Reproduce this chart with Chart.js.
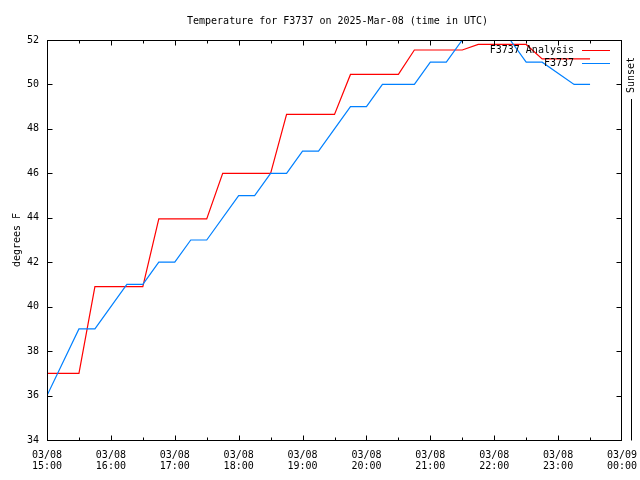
<!DOCTYPE html>
<html>
<head>
<meta charset="utf-8">
<title>Temperature for F3737</title>
<script src="https://cdn.jsdelivr.net/npm/chart.js@4/dist/chart.umd.min.js"></script>
<style>
  html, body { margin: 0; padding: 0; background: #fff; }
</style>
</head>
<body>
<canvas id="tempChart" width="640" height="480"></canvas>
<script>
/*******  Data  ******/
var titleText = 'Temperature for F3737 on 2025-Mar-08 (time in UTC)';
var yLabel = 'degrees F';

// F3737 Analysis (red)
var analysisTimes = ['15:00', '15:30', '15:45', '16:30', '16:45', '17:30', '17:45', '18:30', '18:45',
                     '19:30', '19:45', '20:30', '20:45', '21:30', '21:45', '22:30', '22:45', '23:30'];
var analysisTemps = [37.0, 37.0, 40.9, 40.9, 43.95, 43.95, 46.0, 46.0, 48.65,
                     48.65, 50.45, 50.45, 51.55, 51.55, 51.8, 51.8, 51.15, 51.15];

// F3737 observations (blue)
var obsTimes = ['15:00', '15:30', '15:45', '16:15', '16:30', '16:45', '17:00', '17:15', '17:30', '18:00',
                '18:15', '18:30', '18:45', '19:00', '19:15', '19:45', '20:00', '20:15', '20:45', '21:00',
                '21:15', '21:30', '21:45', '22:00', '22:15', '22:30', '22:45', '23:15', '23:30'];
var obsTemps = [36, 39, 39, 41, 41, 42, 42, 43, 43, 45,
                45, 46, 46, 47, 47, 49, 49, 50, 50, 51,
                51, 52, 53, 53, 52, 51, 51, 50, 50];

// x axis: hours 15:00 on 03/08 to 00:00 on 03/09
var hourTicks = ['15:00', '16:00', '17:00', '18:00', '19:00', '20:00', '21:00', '22:00', '23:00', '00:00'];
var sunsetTime = '00:08';
var yTicks = [34, 36, 38, 40, 42, 44, 46, 48, 50, 52];

var font = 'DejaVu Sans Mono';

// "15:30" -> 15.5 ; times after midnight roll to next day (24+)
function toHours(t) {
  var p = t.split(':');
  var h = Number(p[0]) + Number(p[1]) / 60;
  if (h < 12) h += 24;
  return h;
}
function toPoints(times, temps) {
  return times.map(function (t, i) { return { x: toHours(t), y: temps[i] }; });
}

var xMin = toHours(hourTicks[0]);
var xMax = toHours(hourTicks[hourTicks.length - 1]);

/*****  gnuplot-ish frame, inward ticks, title, key and sunset marker  ********/
var gnuFrame = {
  id: 'gnuFrame',
  afterDraw: function (chart) {
    var c = chart.ctx, a = chart.chartArea;
    var xs = chart.scales.x, ys = chart.scales.y;
    var L = a.left + 0.5, R = a.right - 0.5, T = a.top + 0.5, B = a.bottom + 0.5;
    c.save();
    c.strokeStyle = '#000';
    c.lineWidth = 1;
    c.beginPath();
    for (var h = xMin; h <= xMax + 0.001; h += 0.5) {
      var px = Math.min(Math.round(xs.getPixelForValue(h)) + 0.5, R);
      var len = (h % 1 === 0) ? 5 : 3;
      c.moveTo(px, B); c.lineTo(px, B - len);
      c.moveTo(px, T); c.lineTo(px, T + len);
    }
    yTicks.forEach(function (v) {
      var py = Math.round(ys.getPixelForValue(v)) + 0.5;
      c.moveTo(L, py); c.lineTo(L + 5, py);
      c.moveTo(R, py); c.lineTo(R - 5, py);
    });
    c.stroke();
    c.strokeRect(L, T, R - L, B - T);

    // title
    c.fillStyle = '#000';
    c.font = '10px "' + font + '"';
    c.textAlign = 'center';
    c.textBaseline = 'middle';
    c.fillText(titleText, (a.left + a.right) / 2 + 3, 21);

    // key, top right inside the plot
    c.textAlign = 'right';
    chart.data.datasets.forEach(function (ds, i) {
      var ky = a.top + 10.5 + i * 13;
      c.fillStyle = '#000';
      c.fillText(ds.label, a.right - 48, ky);
      c.strokeStyle = ds.borderColor;
      c.beginPath();
      c.moveTo(a.right - 40, ky);
      c.lineTo(a.right - 12, ky);
      c.stroke();
    });

    // sunset marker just past the right edge
    var sx = Math.round(xs.getPixelForValue(toHours(sunsetTime))) + 0.5;
    c.strokeStyle = '#000';
    c.beginPath();
    c.moveTo(sx, a.top + 59);
    c.lineTo(sx, B);
    c.stroke();
    c.translate(sx, a.top + 35);
    c.rotate(-Math.PI / 2);
    c.textAlign = 'center';
    c.fillStyle = '#000';
    c.fillText('Sunset', 0, 0);
    c.restore();
  }
};

var ctx = document.getElementById('tempChart');
var tempChart = new Chart(ctx, {
  type: 'line',
  data: {
    datasets: [
      {
        label: 'F3737 Analysis',
        data: toPoints(analysisTimes, analysisTemps),
        borderColor: '#ff0000',
        borderWidth: 1.2,
        pointRadius: 0,
        tension: 0,
        clip: 0,
        order: 2
      },
      {
        label: 'F3737',
        data: toPoints(obsTimes, obsTemps),
        borderColor: '#0080ff',
        borderWidth: 1.2,
        pointRadius: 0,
        tension: 0,
        clip: 0,
        order: 1
      }
    ]
  },
  options: {
    responsive: false,
    animation: false,
    events: [],
    layout: { padding: { top: 40, right: 18, left: 0, bottom: 0 } },
    plugins: {
      legend: { display: false },
      title: { display: false },
      tooltip: { enabled: false }
    },
    scales: {
      x: {
        type: 'linear',
        min: xMin,
        max: xMax,
        grid: { display: false, drawTicks: false },
        border: { display: false },
        afterBuildTicks: function (s) {
          s.ticks = hourTicks.map(function (t) { return { value: toHours(t) }; });
        },
        afterFit: function (s) {
          s.height = 40;
          s.paddingLeft = 0;
          s.paddingRight = 0;
        },
        ticks: {
          autoSkip: false,
          maxRotation: 0,
          padding: 10,
          color: '#000',
          font: { family: font, size: 10, lineHeight: 1.1 },
          callback: function (v) {
            var day = v >= 24 ? '03/09' : '03/08';
            var hh = Math.round(v) % 24;
            return [day, (hh < 10 ? '0' : '') + hh + ':00'];
          }
        }
      },
      y: {
        min: yTicks[0],
        max: yTicks[yTicks.length - 1],
        grid: { display: false, drawTicks: false },
        border: { display: false },
        afterBuildTicks: function (s) {
          s.ticks = yTicks.map(function (v) { return { value: v }; });
        },
        afterFit: function (s) {
          s.width = 47;
          s.paddingTop = 0;
          s.paddingBottom = 0;
        },
        ticks: {
          padding: 8,
          color: '#000',
          font: { family: font, size: 10 }
        },
        title: {
          display: true,
          text: yLabel,
          color: '#000',
          font: { family: font, size: 10 },
          padding: { top: 11, bottom: 0 }
        }
      }
    }
  },
  plugins: [gnuFrame]
});
</script>
</body>
</html>
